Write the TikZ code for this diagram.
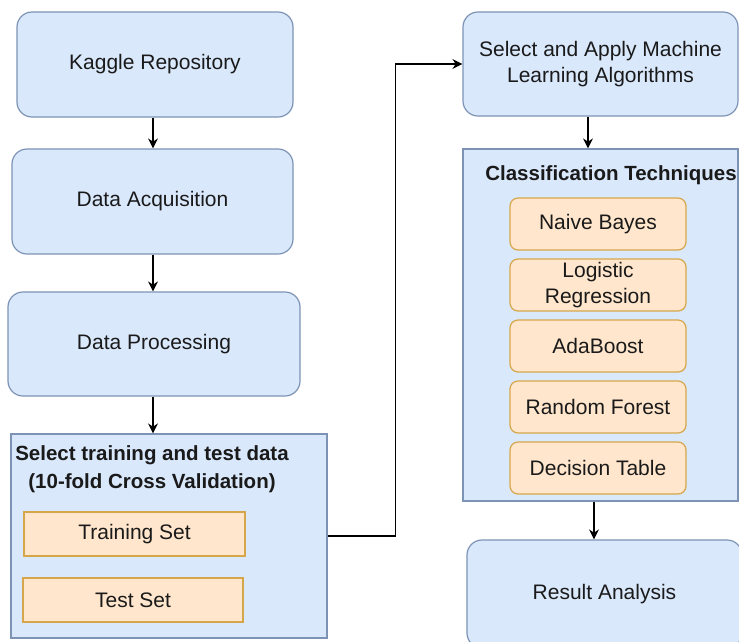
\documentclass[tikz,border=0pt]{standalone}
\usepackage{fontspec}
\setmainfont{Liberation Sans}
\usetikzlibrary{arrows.meta}
\definecolor{bfill}{HTML}{DAE8FC}
\definecolor{bline}{HTML}{7D93B5}
\definecolor{ofill}{HTML}{FFE6CC}
\definecolor{oline}{HTML}{D6A74A}
\definecolor{txt}{HTML}{1A1A1A}
\begin{document}
\begin{tikzpicture}[x=1pt,y=-1pt,
  font=\fontsize{21}{26}\selectfont, text=txt,
  bluebox/.style={draw=bline, fill=bfill, line width=1.2pt, rounded corners=15pt, inner sep=0pt, align=center},
  bluerect/.style={draw=bline, fill=bfill, line width=1.2pt, inner sep=0pt},
  orbox/.style={draw=oline, fill=ofill, line width=1.2pt, rounded corners=8pt, inner sep=0pt, minimum width=176pt, minimum height=52pt, align=center},
  orrect/.style={draw=oline, fill=ofill, line width=1.2pt, inner sep=0pt, minimum height=44pt},
  title/.style={font=\fontsize{20.5}{28}\selectfont\bfseries, align=center, inner sep=0pt},
  arr/.style={-{Stealth[length=10pt,width=10pt]}, line width=1.4pt, draw=black}
]
\useasboundingbox (0,0) rectangle (739,641);
\clip (0,0) rectangle (739,641);
\fill[white] (0,0) rectangle (739,641);

% left column
\node[bluebox, minimum width=276pt, minimum height=105pt] (kr) at (155,64.5) {Kaggle Repository};
\node[bluebox, minimum width=281pt, minimum height=105pt] (da) at (152.5,201.5) {Data Acquisition};
\node[bluebox, minimum width=292pt, minimum height=104pt] (dp) at (154,344) {Data Processing};
\node[bluerect, minimum width=316pt, minimum height=204pt] (st) at (169,536) {};
\node[title] (stt) at (152,469) {Select training and test data\\(10-fold Cross Validation)};
\node[orrect, minimum width=221pt] (ts) at (134.5,534) {Training Set};
\node[orrect, minimum width=220pt] (te) at (133,600) {Test Set};

% right column
\node[bluebox, minimum width=275pt, minimum height=104pt] (sa) at (600.5,64) {Select and Apply Machine\\Learning Algorithms};
\node[bluerect, minimum width=275pt, minimum height=352pt] (ct) at (600.5,325) {};
\node[title] (ctt) at (611,175) {Classification Techniques};
\node[orbox] (nb) at (598,224) {Naive Bayes};
\node[orbox] (lr) at (598,285) {Logistic\\Regression};
\node[orbox] (ab) at (598,346) {AdaBoost};
\node[orbox] (rf) at (598,407) {Random Forest};
\node[orbox] (dt) at (598,468) {Decision Table};
\node[bluebox, minimum width=275pt, minimum height=108pt] (ra) at (604.5,594) {Result Analysis};

% connectors
\coordinate (xa) at (153,0);
\coordinate (xb) at (588,0);
\coordinate (xc) at (594,0);
\draw[arr] (kr.south -| xa) -- (da.north -| xa);
\draw[arr] (da.south -| xa) -- (dp.north -| xa);
\draw[arr] (dp.south -| xa) -- (st.north -| xa);
\draw[arr] (st.east) -- ++(68,0) |- (sa.west);
\draw[arr] (sa.south -| xb) -- (ct.north -| xb);
\draw[arr] (ct.south -| xc) -- (ra.north -| xc);
\end{tikzpicture}
\end{document}
